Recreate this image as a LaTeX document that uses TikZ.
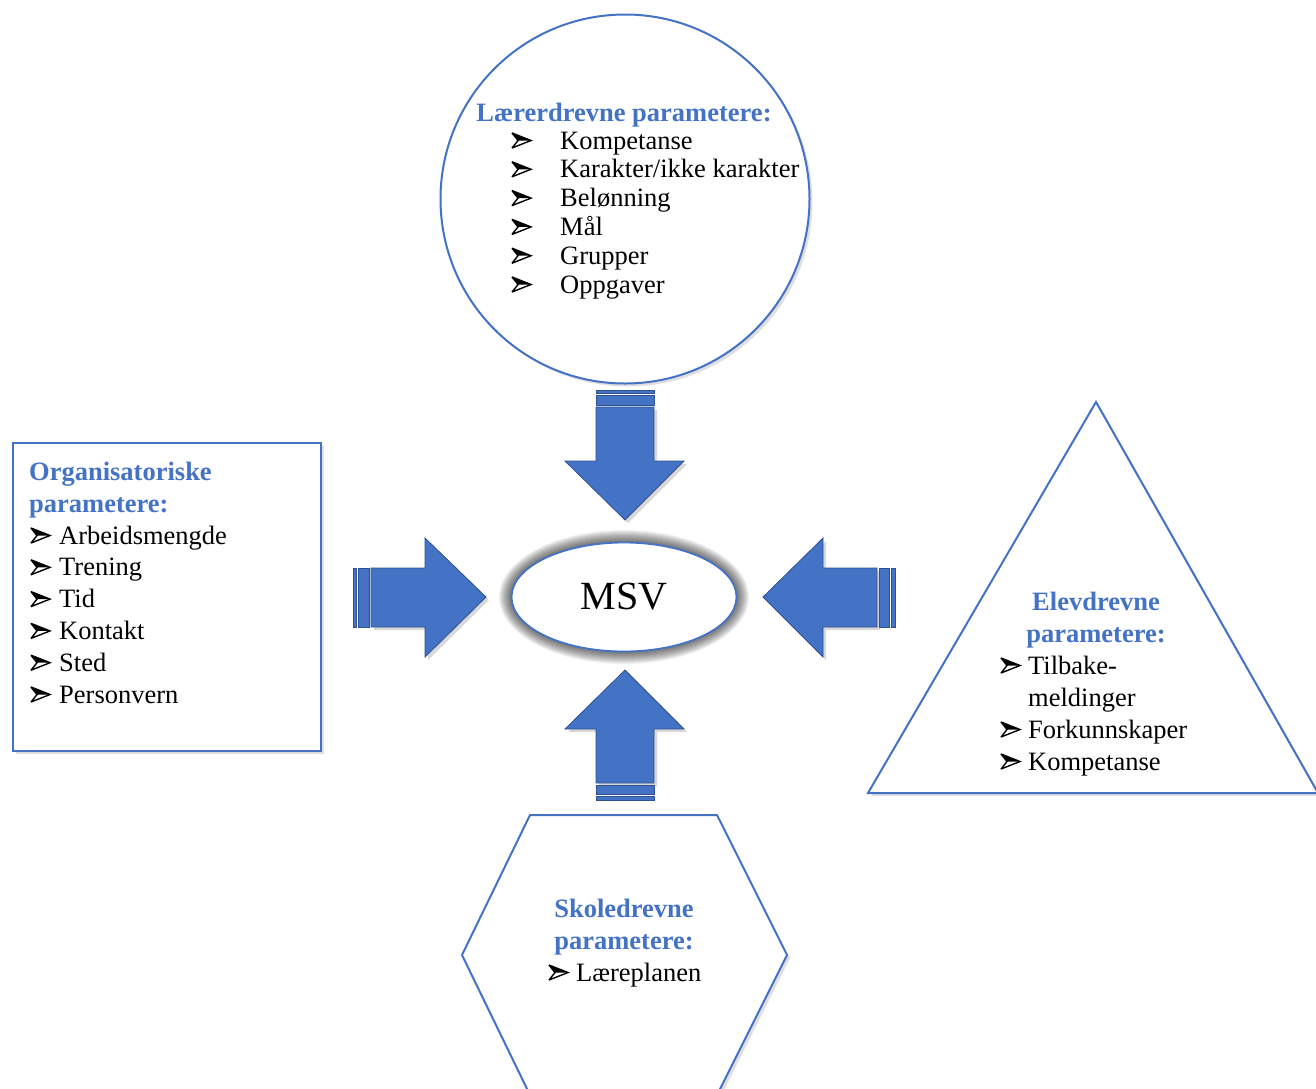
\documentclass[tikz,border=0pt]{standalone}
\usepackage{fontspec}
\setmainfont{Liberation Serif}
\usetikzlibrary{shadows,shapes.geometric}
\definecolor{wblue}{HTML}{4472C4}
\definecolor{wdark}{HTML}{2F528F}
\tikzset{
  shapeline/.style={draw=wblue, line width=2pt, fill=white,
    drop shadow={opacity=0.25, shadow xshift=3pt, shadow yshift=-3pt}},
  blockarrow/.style={fill=wblue, draw=wdark, line width=0.8pt, line join=miter},
  arrowshadow/.style={drop shadow={opacity=0.3, shadow xshift=3pt, shadow yshift=-3pt}},
  ttl/.style={font=\fontsize{26.5}{28}\selectfont\bfseries, text=wblue, inner sep=0pt},
  itm/.style={font=\fontsize{26.5}{28}\selectfont, inner sep=0pt, anchor=base west},
  bulletpic/.pic={
    \fill[black] (0,-7.5) -- (19,0) -- (6,0) -- cycle;
    \draw[black, line width=1.4pt, line join=miter, miter limit=3] (0,-7.5) -- (19,0) -- (0,7.5) -- (6,0) -- cycle;
  },
}
\begin{document}
\begin{tikzpicture}[x=1pt,y=-1pt]
\useasboundingbox (0,0) rectangle (1316,1088);
\clip (0,0) rectangle (1316,1088);
\fill[white] (0,0) rectangle (1316,1088);

% ---- top circle: teacher-driven
\node[shapeline, circle, minimum size=369pt, inner sep=0pt] (circ) at (625,199) {};
\node[ttl, anchor=base] (ctitle) at (624,121) {Lærerdrevne parametere:};
\foreach \t [count=\i] in {Kompetanse, Karakter/ikke karakter, Belønning, Mål, Grupper, Oppgaver} {
  \pic at (512,{120.2+28.8*\i-8.5}) {bulletpic};
  \node[itm] (ct\i) at (560,{120.2+28.8*\i}) {\t};
}

% ---- left rectangle: organisational
\node[shapeline, rectangle, minimum width=308pt, minimum height=308pt, inner sep=0pt] (rect) at (167,597) {};
\node[ttl, anchor=base west] (rt1) at (29,480) {Organisatoriske};
\node[ttl, anchor=base west] (rt2) at (29,512) {parametere:};
\foreach \t [count=\i] in {Arbeidsmengde, Trening, Tid, Kontakt, Sted, Personvern} {
  \pic at (31,{512.2+31.8*\i-8.5}) {bulletpic};
  \node[itm] (ri\i) at (59,{512.2+31.8*\i}) {\t};
}

% ---- right triangle: student-driven
\coordinate (ta) at (1096,402);
\coordinate (tl) at (868,793);
\coordinate (tr) at (1318,793);
\draw[shapeline, line join=miter] (ta) -- (tr) -- (tl) -- cycle;
\node[ttl, anchor=base] (tt1) at (1096,610) {Elevdrevne};
\node[ttl, anchor=base] (tt2) at (1096,642) {parametere:};
\pic at (1001,665.5) {bulletpic};
\node[itm] (ti1) at (1028,674) {Tilbake-};
\node[itm] (ti1b) at (1028,706) {meldinger};
\pic at (1001,729.5) {bulletpic};
\node[itm] (ti2) at (1028,738) {Forkunnskaper};
\pic at (1001,761.5) {bulletpic};
\node[itm] (ti3) at (1028,770) {Kompetanse};

% ---- bottom hexagon: school-driven
\draw[shapeline, line join=miter] (530,815) -- (717,815) -- (787,955) -- (717,1095) -- (530,1095) -- (462,955) -- cycle;
\node[ttl, anchor=base] (ht1) at (624,917) {Skoledrevne};
\node[ttl, anchor=base] (ht2) at (624,949) {parametere:};
\pic at (549,972.5) {bulletpic};
\node[itm] (hi1) at (576,981) {Læreplanen};

% ---- centre ellipse with glow
\foreach \k in {1,...,13} {
  \fill[black, opacity=0.055] (624,597) ellipse [x radius={(112+\k)*1pt}, y radius={(54+\k)*1pt}];
}
\node[ellipse, draw=wblue, line width=1.8pt, fill=white, minimum width=225pt, minimum height=109pt,
      font=\fontsize{40}{41}\selectfont] (msv) at (624,597) {MSV};

% ---- block arrows
% down arrow (from circle)
\path[blockarrow, arrowshadow] (596,407) -- (654,407) -- (654,461) -- (684,461) -- (625,520) -- (565,461) -- (596,461) -- cycle;
\path[blockarrow] (596,390) rectangle (654,393.5);
\path[blockarrow] (596,395.5) rectangle (654,405);
% up arrow (from hexagon)
\path[blockarrow, arrowshadow] (596,783) -- (596,729) -- (565,729) -- (625,670) -- (684,729) -- (654,729) -- (654,783) -- cycle;
\path[blockarrow] (596,785) rectangle (654,794.5);
\path[blockarrow] (596,796.5) rectangle (654,800);
% right-pointing arrow (from rectangle)
\path[blockarrow, arrowshadow] (371,568) -- (425,568) -- (425,538) -- (486,597) -- (425,657) -- (425,627) -- (371,627) -- cycle;
\path[blockarrow] (353,568) rectangle (356.5,627);
\path[blockarrow] (358.5,568) rectangle (369,627);
% left-pointing arrow (from triangle)
\path[blockarrow, arrowshadow] (877,568) -- (823,568) -- (823,538) -- (763,597) -- (823,657) -- (823,627) -- (877,627) -- cycle;
\path[blockarrow] (879,568) rectangle (889.5,627);
\path[blockarrow] (891.5,568) rectangle (895,627);
\end{tikzpicture}
\end{document}
